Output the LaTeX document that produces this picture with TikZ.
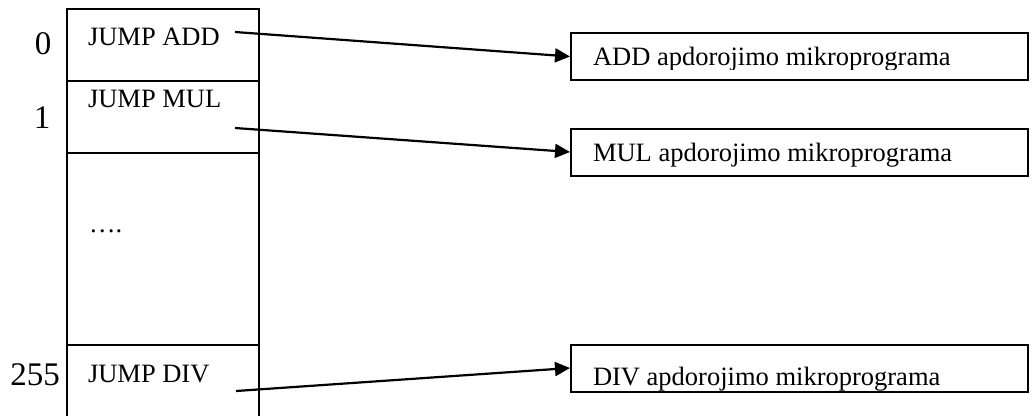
\documentclass[tikz,border=0pt]{standalone}
\usepackage{fontspec}
\setmainfont{Liberation Serif}
\usetikzlibrary{arrows.meta}
\begin{document}
\begin{tikzpicture}[x=1pt,y=-1pt,
  line width=2pt,
  txt/.style={anchor=base west,inner sep=0pt,font=\fontsize{26.5}{30}\selectfont},
  num/.style={inner sep=0pt,font=\fontsize{33}{36}\selectfont},
  target/.style={draw,line width=2pt,minimum width=457pt,minimum height=47pt,inner sep=0pt},
  arr/.style={-{Triangle[length=15pt,width=14pt]},line width=2.2pt}]
\useasboundingbox (0,0) rectangle (1033,416);
% memory column
\draw (67,416) -- (67,9) -- (259,9) -- (259,416);
\draw (67,81) -- (259,81);
\draw (67,153) -- (259,153);
\draw (67,345) -- (259,345);
% addresses
\node[num] (n0) at (43,44) {0};
\node[num] (n1) at (42,118) {1};
\node[num] (n255) at (35,375) {255};
% cell contents
\node[txt] (j0) at (87,45) {JUMP ADD};
\node[txt] (j1) at (87,107) {JUMP MUL};
\node[txt] (jd) at (88,232) {….};
\node[txt] (j2) at (87,382) {JUMP DIV};
% targets
\node[target] (b0) at (799.5,56.5) {};
\node[target] (b1) at (799.5,152) {};
\node[target] (b2) at (799.5,368) {};
\begin{scope}
\clip (580,35) rectangle (1020,69.5);
\node[txt] (t0) at (592,65) {ADD apdorojimo mikroprograma};
\end{scope}
\begin{scope}
\clip (580,130) rectangle (1020,167);
\node[txt] (t1) at (592,161.5) {MUL apdorojimo mikroprograma};
\end{scope}
\begin{scope}
\clip (580,346) rectangle (1020,390);
\node[txt] (t2) at (592,385) {DIV apdorojimo mikroprograma};
\end{scope}
% arrows
\coordinate (s0) at (235,32);
\coordinate (s1) at (235,128);
\coordinate (s2) at (236,391);
\draw[arr] (s0) -- (b0.west);
\draw[arr] (s1) -- (b1.west);
\draw[arr] (s2) -- (b2.west);
\end{tikzpicture}
\end{document}
